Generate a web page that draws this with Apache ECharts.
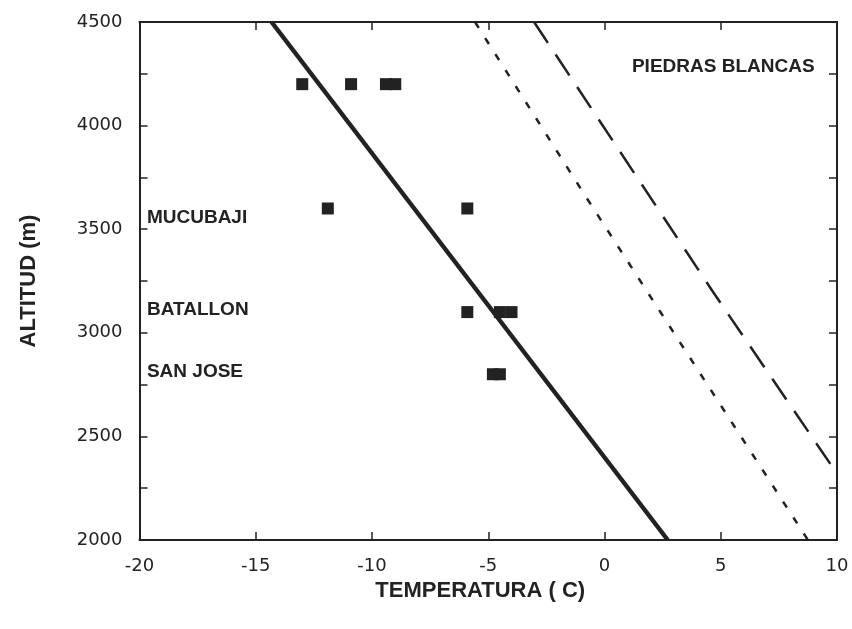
<!DOCTYPE html>
<html>
<head>
<meta charset="utf-8">
<script src="https://cdn.jsdelivr.net/npm/echarts@6/dist/echarts.min.js"></script>
<style>
  html, body { margin: 0; padding: 0; background: #fff; }
  #main { width: 852px; height: 629px; }
</style>
</head>
<body>
<div id="main"></div>
<script>
// datos
var xTicks = [-20, -15, -10, -5, 0, 5, 10];
var yTicks = [2000, 2500, 3000, 3500, 4000, 4500];

// estaciones: [temperatura, altitud]
var sitePoints = [
    [-13, 4200], [-10.9, 4200], [-9.4, 4200], [-9, 4200],
    [-11.9, 3600], [-5.9, 3600],
    [-5.9, 3100], [-4.5, 3100], [-4, 3100],
    [-4.8, 2800], [-4.5, 2800]
];

// linea continua (gradiente)
var solidLine = [[-14.32, 4500], [2.72, 2000]];
// linea punteada
var dottedLine = [[-5.57, 4500], [-0.85, 3665], [3.46, 2917], [8.75, 2000]];
// linea de trazos
var dashedLine = [[-3.03, 4500], [4.67, 3197], [10, 2320]];

// etiquetas de sitios: [nombre, temperatura, altitud]
var siteLabels = [
    ['PIEDRAS BLANCAS', 1.18, 4283],
    ['MUCUBAJI', -19.68, 3554],
    ['BATALLON', -19.68, 3110],
    ['SAN JOSE', -19.68, 2811]
];

var chart = echarts.init(document.getElementById('main'));
var ink = '#222';

var tickStyle = { show: true, inside: true, length: 8, lineStyle: { color: ink, width: 1.5 } };
var frameLine = { show: true, onZero: false, lineStyle: { color: ink, width: 2 } };

var option = {
    backgroundColor: '#fff',
    animation: false,
    grid: { left: 139.5, right: 15, top: 22, bottom: 89 },
    xAxis: [{
        type: 'value',
        min: xTicks[0],
        max: xTicks[xTicks.length - 1],
        interval: 5,
        position: 'bottom',
        name: 'TEMPERATURA ( C)',
        nameLocation: 'middle',
        nameGap: 37,
        nameTextStyle: { fontFamily: 'Liberation Sans', fontWeight: 'bold', fontSize: 22, color: ink, padding: [0, 16, 0, 0] },
        axisLine: frameLine,
        axisTick: tickStyle,
        axisLabel: { margin: 17, fontFamily: 'DejaVu Sans', fontSize: 18, color: ink },
        splitLine: { show: false }
    }, {
        type: 'value',
        min: xTicks[0],
        max: xTicks[xTicks.length - 1],
        interval: 5,
        position: 'top',
        axisLine: frameLine,
        axisTick: tickStyle,
        axisLabel: { show: false },
        splitLine: { show: false }
    }],
    yAxis: [{
        type: 'value',
        min: yTicks[0],
        max: yTicks[yTicks.length - 1],
        interval: 250,
        position: 'left',
        name: 'ALTITUD (m)',
        nameLocation: 'middle',
        nameGap: 100,
        nameTextStyle: { fontFamily: 'Liberation Sans', fontWeight: 'bold', fontSize: 22, color: ink },
        axisLine: frameLine,
        axisTick: tickStyle,
        axisLabel: {
            margin: 17, fontFamily: 'DejaVu Sans', fontSize: 18, color: ink,
            formatter: function (v) { return yTicks.indexOf(v) >= 0 ? String(v) : ''; }
        },
        splitLine: { show: false }
    }, {
        type: 'value',
        min: yTicks[0],
        max: yTicks[yTicks.length - 1],
        interval: 250,
        position: 'right',
        axisLine: frameLine,
        axisTick: tickStyle,
        axisLabel: { show: false },
        splitLine: { show: false }
    }],
    series: [{
        type: 'line',
        data: solidLine,
        symbol: 'none',
        clip: true,
        lineStyle: { color: ink, width: 4.5 }
    }, {
        type: 'line',
        data: dottedLine,
        symbol: 'none',
        clip: true,
        lineStyle: { color: ink, width: 2.5, type: [7, 12] }
    }, {
        type: 'line',
        data: dashedLine,
        symbol: 'none',
        clip: true,
        lineStyle: { color: ink, width: 2.5, type: [25, 14] }
    }, {
        type: 'scatter',
        data: sitePoints,
        symbol: 'rect',
        symbolSize: 12,
        itemStyle: { color: ink, opacity: 1 }
    }, {
        // etiquetas de texto de cada sitio
        type: 'scatter',
        data: siteLabels.map(function (s) { return { value: [s[1], s[2]], name: s[0] }; }),
        symbolSize: 0,
        silent: true,
        itemStyle: { opacity: 1 },
        label: {
            show: true,
            position: 'right',
            distance: 0,
            formatter: '{b}',
            fontFamily: 'Liberation Sans',
            fontWeight: 'bold',
            fontSize: 19,
            color: ink
        }
    }]
};

chart.setOption(option);

window.onresize = function () {
    chart.resize();
};
</script>
</body>
</html>
